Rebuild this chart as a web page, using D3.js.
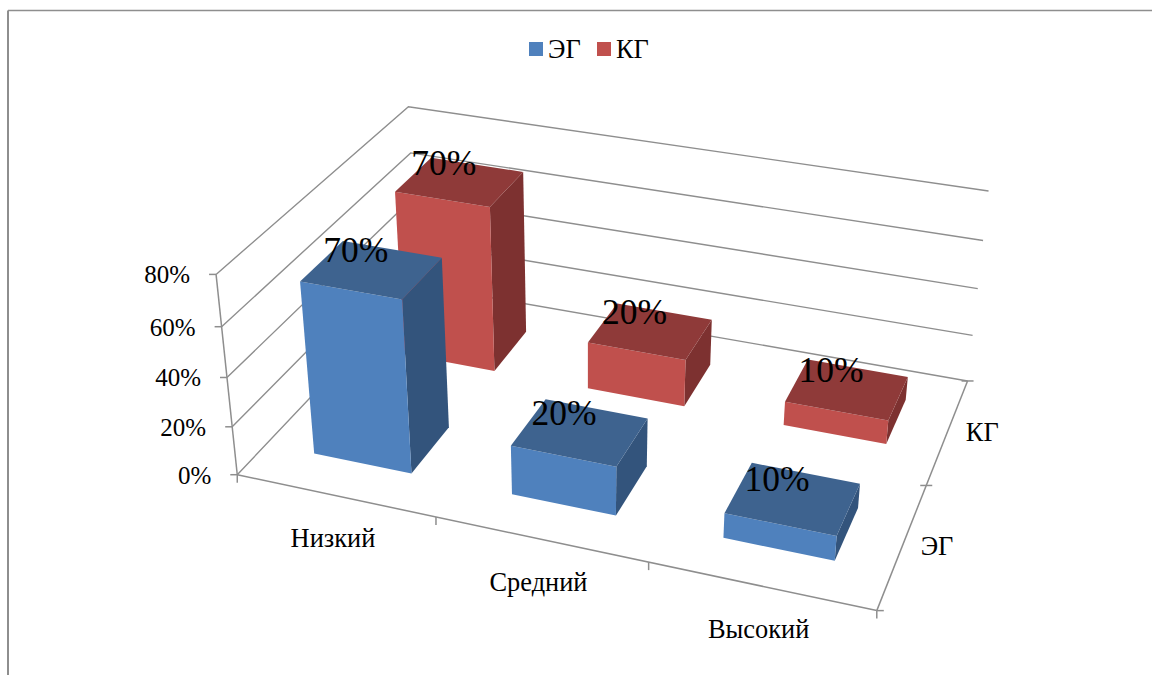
<!DOCTYPE html>
<html><head><meta charset="utf-8">
<script src="https://cdn.jsdelivr.net/npm/d3@7"></script>
<style>html,body{margin:0;padding:0;background:#fff}svg{display:block}text{font-family:"Liberation Serif",serif;fill:#000}</style>
</head><body><svg id="c" width="1152" height="675"></svg>
<script>
const categories = ["Низкий","Средний","Высокий"];
const seriesNames = ["ЭГ","КГ"];
const valuesEG = [70,20,10];
const valuesKG = [70,20,10];
const valueTicks = [0,20,40,60,80];
const seriesValues = [valuesEG, valuesKG];
const frontColors = ["#4f81bd","#c0504d"];
const topColors = ["#3e638f","#8f3a39"];
const sideColors = ["#33547c","#7d3130"];
const gridColor = "#8e8e8e";

// Camera calibration: world (u, v, w) -> screen (x, y)
const anchors = [
 [0,0,0,237.5,475],[0,0,.25,232.3,426.7],[0,0,.5,226.7,377.3],[0,0,.75,221.7,326.7],[0,0,1,216,274.3],
 [1,0,0,876.7,610.7],
 [1,1,0,967.3,380.7],[1,1,.25,973,335.3],[1,1,.5,977.7,288.7],[1,1,.75,983.3,240.7],[1,1,1,988.3,191],
 [0,1,1,409,106.7],[0,1,.75,410,153]
];
function solveCamera(pts){
  const n=11, A=Array.from({length:n},()=>new Array(n+1).fill(0));
  const add=(r,b)=>{for(let i=0;i<n;i++){for(let j=0;j<n;j++)A[i][j]+=r[i]*r[j];A[i][n]+=r[i]*b;}};
  pts.forEach(([u,v,w,x,y])=>{
    add([u,v,w,1,0,0,0,0,-x*u,-x*v,-x*w],x);
    add([0,0,0,0,u,v,w,1,-y*u,-y*v,-y*w],y);
  });
  for(let c=0;c<n;c++){
    let p=c;for(let r=c+1;r<n;r++)if(Math.abs(A[r][c])>Math.abs(A[p][c]))p=r;
    [A[c],A[p]]=[A[p],A[c]];
    for(let r=0;r<n;r++){if(r===c)continue;const f=A[r][c]/A[c][c];for(let k=c;k<=n;k++)A[r][k]-=f*A[c][k];}
  }
  return A.map((row,i)=>row[n]/row[i]);
}
const m=solveCamera(anchors);
const project=(u,v,w)=>{
  const d=m[8]*u+m[9]*v+m[10]*w+1;
  return [(m[0]*u+m[1]*v+m[2]*w+m[3])/d,(m[4]*u+m[5]*v+m[6]*w+m[7])/d];
};

const uScale=d3.scaleBand().domain(categories).range([0,1]).paddingInner(0.5).paddingOuter(0.25);
const uStep=d3.scaleBand().domain(categories).range([0,1]);
const vScale=d3.scaleBand().domain(seriesNames).range([0,1]).paddingInner(0.57).paddingOuter(0.285);
const vStep=d3.scaleBand().domain(seriesNames).range([0,1]);
const wScale=d3.scaleLinear().domain([0,80]).range([0,1]);

const svg=d3.select("#c");
const line=d3.line();
const poly=p=>line(p)+"Z";
const seg=(g,a,b,w=1.5)=>g.append("line").attr("x1",a[0]).attr("y1",a[1]).attr("x2",b[0]).attr("y2",b[1]).attr("stroke",gridColor).attr("stroke-width",w);

// Chart frame
const frame=svg.append("g");
seg(frame,[8,10.5],[1152,10.5],1.5);
seg(frame,[8,10.5],[8,675],2);

// Walls and axes
const grid=svg.append("g");
valueTicks.forEach(t=>{
  const w=wScale(t), a=project(0,0,w), b=project(0,1,w), c=project(1,1,w);
  grid.append("path").attr("d",line([a,b,c])).attr("fill","none").attr("stroke",gridColor).attr("stroke-width",1.4);
  seg(grid,[a[0]-7,a[1]],a);
  grid.append("text").attr("x",a[0]-26).attr("y",a[1]+9).attr("text-anchor","end").attr("font-size",25).text(t+"%");
});
seg(grid,project(0,0,0),project(0,0,1));
seg(grid,project(0,0,0),project(1,0,0));
seg(grid,project(1,0,0),project(1,1,0));
const p00=project(0,0,0); seg(grid,p00,[p00[0],p00[1]+8]);
categories.forEach((c,i)=>{
  const a=project(uStep(c)+uStep.bandwidth(),0,0);
  seg(grid,a,[a[0],a[1]+8]);
  const m0=project(uStep(c)+uStep.bandwidth()/2,0,0);
  grid.append("text").attr("x",m0[0]-2).attr("y",m0[1]+52).attr("text-anchor","middle").attr("font-size",26.4).text(c);
});
const pr0=project(1,0,0);
seg(grid,pr0,[pr0[0]+7,pr0[1]]);
seriesNames.forEach(s=>{
  const a=project(1,vStep(s)+vStep.bandwidth(),0);
  seg(grid,[a[0]-6,a[1]],[a[0]+6,a[1]]);
  const m0=project(1,vStep(s)+vStep.bandwidth()/2,0);
  grid.append("text").attr("x",m0[0]+18).attr("y",m0[1]+10).attr("text-anchor","start").attr("font-size",26.4).text(s);
});

// Bars: back row first
const rows=d3.range(seriesNames.length).reverse();
rows.forEach(si=>{
  const s=seriesNames[si], g=svg.append("g");
  const v0=vScale(s), v1=v0+vScale.bandwidth();
  categories.forEach((c,ci)=>{
    const u0=uScale(c), u1=u0+uScale.bandwidth(), h=wScale(seriesValues[si][ci]);
    g.append("path").attr("d",poly([project(u1,v0,0),project(u1,v1,0),project(u1,v1,h),project(u1,v0,h)])).attr("fill",sideColors[si]);
    g.append("path").attr("d",poly([project(u0,v0,0),project(u1,v0,0),project(u1,v0,h),project(u0,v0,h)])).attr("fill",frontColors[si]);
    g.append("path").attr("d",poly([project(u0,v0,h),project(u1,v0,h),project(u1,v1,h),project(u0,v1,h)])).attr("fill",topColors[si]);
  });
});
// Data labels
const labels=svg.append("g");
rows.forEach(si=>{
  const s=seriesNames[si];
  categories.forEach((c,ci)=>{
    const val=seriesValues[si][ci];
    const p=project(uScale(c)+uScale.bandwidth()/2,vScale(s)+vScale.bandwidth()/2,wScale(val));
    labels.append("text").attr("x",p[0]-16).attr("y",p[1]-7).attr("text-anchor","middle").attr("font-size",35.5).text(val+"%");
  });
});
// Legend
const legend=svg.append("g");
const legendX=d3.scaleOrdinal().domain(seriesNames).range([529,597]);
seriesNames.forEach((s,i)=>{
  const x=legendX(s);
  legend.append("rect").attr("x",x).attr("y",42).attr("width",14).attr("height",14).attr("fill",frontColors[i]);
  legend.append("text").attr("x",x+19).attr("y",58).attr("font-size",26.4).text(s);
});
</script></body></html>
